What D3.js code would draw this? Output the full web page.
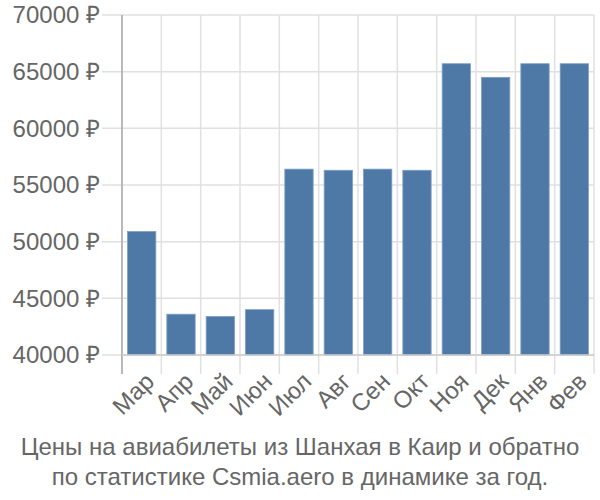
<!DOCTYPE html>
<html><head><meta charset="utf-8">
<script src="https://cdn.jsdelivr.net/npm/d3@7"></script>
<style>body{margin:0;background:#fff;font-family:"Liberation Sans",Arial,sans-serif;}</style>
</head><body><svg id="c" width="600" height="500"></svg>
<script>
const months = ["Мар","Апр","Май","Июн","Июл","Авг","Сен","Окт","Ноя","Дек","Янв","Фев"];
const prices = [50900,43600,43400,44000,56400,56300,56400,56300,65700,64500,65700,65700];
const yTicks = [40000,45000,50000,55000,60000,65000,70000];
const titleLines = ["Цены на авиабилеты из Шанхая в Каир и обратно","по статистике Csmia.aero в динамике за год."];

const svg = d3.select("#c");
const L=122,R=594,T=15,B=355;
const x = d3.scaleBand().domain(months).range([L,R]).paddingInner(0.28).paddingOuter(0.14);
const y = d3.scaleLinear().domain([40000,70000]).range([B,T]);
const step = x.step();
const grid="#e0e0e0", txt="#666";

svg.append("g").selectAll("line").data(yTicks).join("line")
 .attr("x1",L-20).attr("x2",R).attr("y1",d=>y(d)).attr("y2",d=>y(d))
 .attr("stroke",grid).attr("stroke-width",1.5);
const vx = d3.range(months.length+1).map(i=>L+i*step);
svg.append("g").selectAll("line").data(vx).join("line")
 .attr("x1",d=>d).attr("x2",d=>d).attr("y1",T).attr("y2",B+19)
 .attr("stroke",grid).attr("stroke-width",1.5);
svg.append("g").selectAll("rect").data(prices).join("rect")
 .attr("x",(d,i)=>x(months[i])).attr("width",x.bandwidth())
 .attr("y",d=>y(d)).attr("height",d=>B-y(d))
 .attr("fill","#4e79a7").attr("stroke","#7d9fc4").attr("stroke-width",0.8);
svg.append("line").attr("x1",L).attr("x2",L).attr("y1",T).attr("y2",B+19).attr("stroke","#aaa").attr("stroke-width",1.5);
svg.append("line").attr("x1",L).attr("x2",R).attr("y1",B).attr("y2",B).attr("stroke","#ccc").attr("stroke-width",1.5);
svg.append("g").selectAll("text").data(yTicks).join("text")
 .attr("x",L-22).attr("y",d=>y(d)).attr("dy","0.35em").attr("text-anchor","end")
 .attr("fill",txt).attr("font-size",24).text(d=>d+" ₽");
svg.append("g").selectAll("text").data(months).join("text")
 .attr("transform",d=>`translate(${x(d)+x.bandwidth()/2+8},${B+22}) rotate(-45)`)
 .attr("text-anchor","end").attr("dy","0.35em")
 .attr("fill",txt).attr("font-size",24).text(d=>d);
svg.append("g").selectAll("text").data(titleLines).join("text")
 .attr("x",300).attr("y",(d,i)=>455+i*30).attr("text-anchor","middle")
 .attr("fill",txt).attr("font-size",24).text(d=>d);
</script></body></html>
